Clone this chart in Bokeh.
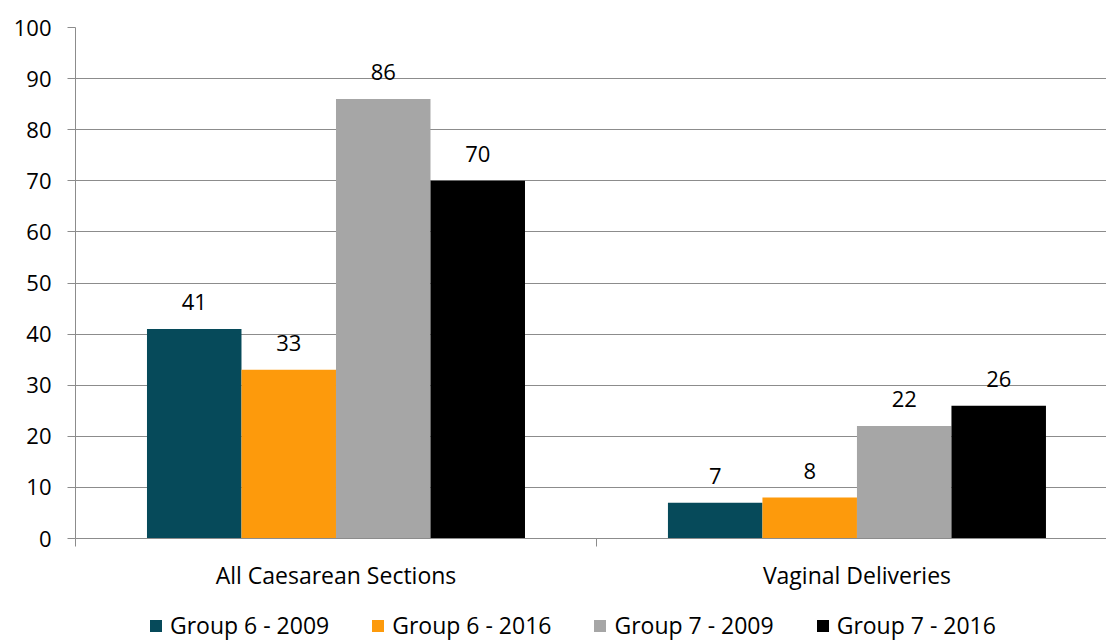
from bokeh.plotting import figure
from bokeh.layouts import column
from bokeh.models import ColumnDataSource, FixedTicker, Range1d, Legend, LegendItem
from bokeh.embed import file_html
from bokeh.resources import INLINE
from bokeh.core.properties import value

categories = ["All Caesarean Sections", "Vaginal Deliveries"]
series = ["Group 6 - 2009", "Group 6 - 2016", "Group 7 - 2009", "Group 7 - 2016"]
g6_2009 = [41, 7]
g6_2016 = [33, 8]
g7_2009 = [86, 22]
g7_2016 = [70, 26]
series_values = [g6_2009, g6_2016, g7_2009, g7_2016]
colors = ["#064A5A", "#FD9A0C", "#A6A6A6", "#000000"]
y_ticks = [0, 10, 20, 30, 40, 50, 60, 70, 80, 90, 100]

FONT = "Open Sans"
FS = "22px"
FS_L = "23px"
GRID = "#8C8C8C"
W = 1106
H_MAIN = 604
H_LEG = 37

p = figure(width=W, height=H_MAIN, output_backend="svg", toolbar_location=None,
           x_range=Range1d(0, 1.979), y_range=Range1d(0, 100),
           min_border_left=75, min_border_top=27, min_border_right=0,
           min_border_bottom=66)
p.outline_line_color = None
p.background_fill_color = "white"
p.border_fill_color = "white"
p.xgrid.visible = False
p.ygrid.ticker = FixedTicker(ticks=y_ticks)
p.ygrid.grid_line_color = GRID
p.ygrid.grid_line_width = 1

bar_w = 0.1814
for k, (name, vals) in enumerate(zip(series, series_values)):
    off = (k - 1.5) * bar_w
    xs = [i + 0.5 + off for i in range(len(categories))]
    src = ColumnDataSource(dict(x=xs, top=vals, label=[str(v) for v in vals]))
    p.vbar(x="x", top="top", bottom=0, width=bar_w, fill_color=colors[k],
           line_color=None, source=src)
    p.text(x="x", y="top", text="label", source=src, text_align="center",
           text_baseline="alphabetic", y_offset=-27, text_font=value(FONT),
           text_font_size=FS, text_color="black")

# y axis
ya = p.yaxis[0]
ya.ticker = FixedTicker(ticks=y_ticks)
ya.axis_line_color = GRID
ya.major_tick_line_color = GRID
ya.major_tick_out = 8
ya.major_tick_in = 0
ya.minor_tick_line_color = None
ya.major_label_standoff = 16
ya.major_label_text_font = FONT
ya.major_label_text_font_size = FS
ya.major_label_text_color = "black"

# x axis
xa = p.xaxis[0]
xa.ticker = FixedTicker(ticks=[0.5, 1.5], minor_ticks=[0, 1, 2])
xa.major_label_overrides = {0.5: categories[0], 1.5: categories[1]}
xa.axis_line_color = GRID
xa.major_tick_line_color = None
xa.major_tick_out = 8
xa.major_tick_in = 0
xa.minor_tick_line_color = GRID
xa.minor_tick_out = 8
xa.minor_tick_in = 0
xa.major_label_standoff = 12
xa.major_label_text_font = FONT
xa.major_label_text_font_size = FS_L
xa.major_label_text_color = "black"

# legend strip (frame is aligned with the main plot's frame by the column)
p2 = figure(width=W, height=H_LEG, output_backend="svg", toolbar_location=None,
            x_range=Range1d(0, 1), y_range=Range1d(0, 1),
            x_axis_type=None, y_axis_type=None,
            min_border_left=0, min_border_right=0, min_border_top=0,
            min_border_bottom=0)
p2.outline_line_color = None
p2.background_fill_color = "white"
p2.border_fill_color = "white"
p2.xgrid.visible = False
p2.ygrid.visible = False
items = []
for k, name in enumerate(series):
    r = p2.vbar(x=[0.5], top=[0], bottom=[0], width=0.0, fill_color=colors[k],
                line_color=None)
    items.append(LegendItem(label=name, renderers=[r]))
legend = Legend(items=items, orientation="horizontal", location=(73, 0),
                glyph_width=15, glyph_height=15, label_standoff=7, spacing=41,
                border_line_color=None, background_fill_alpha=0,
                margin=0, padding=0, label_text_font=FONT,
                label_text_font_size=FS_L, label_text_color="black")
p2.add_layout(legend, "center")

layout = column(p, p2, spacing=0)
open("out.html", "w").write(file_html(layout, INLINE))
